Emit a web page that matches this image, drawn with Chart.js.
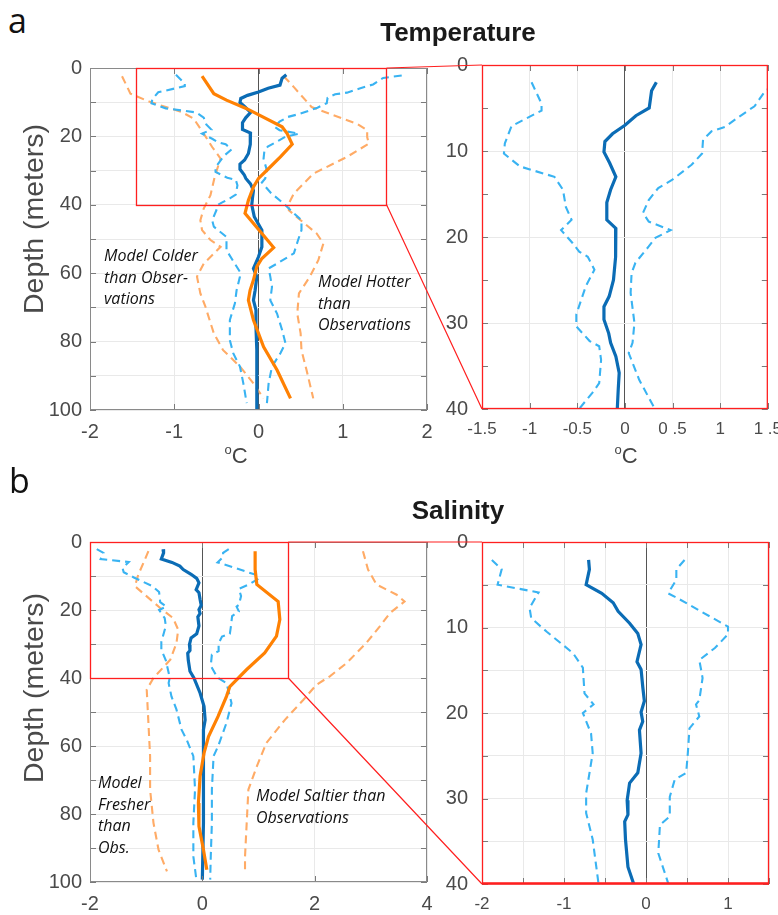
<!DOCTYPE html>
<html>
<head>
<meta charset="utf-8">
<script src="https://cdn.jsdelivr.net/npm/chart.js@4.4.1/dist/chart.umd.min.js"></script>
<style>
    body { margin: 0; background: #fff; }
    #fig { position: relative; width: 778px; height: 915px; overflow: hidden; background: #fff; font-family: 'Liberation Sans', Arial, sans-serif; }
    .lbl { position: absolute; white-space: nowrap; }
    .title { font-weight: bold; font-size: 26px; color: #1a1a1a; transform: translateX(-50%); }
    .panel { font-family: 'Open Sans', sans-serif; font-size: 34px; color: #111; line-height: 1; }
    .ylab { font-size: 28.5px; color: #4a4a4a; transform: translate(-50%, -50%) rotate(-90deg); }
    .unit { font-size: 22px; color: #444; transform: translateX(-50%); }
    .unit sup { font-size: 13px; vertical-align: 9px; }
    .note { font-family: 'Open Sans', sans-serif; font-style: italic; font-size: 16px; line-height: 21.7px; color: #111; }
</style>
</head>
<body>
<div id="fig">
    <div class="lbl panel" style="left:8px; top:3px;">a</div>
    <div class="lbl title" style="left:458px; top:17px;">Temperature</div>
    <div class="lbl ylab" style="left:33px; top:219px;">Depth (meters)</div>
    <div class="lbl unit" style="left:236px; top:442px;"><sup>o</sup>C</div>
    <div class="lbl unit" style="left:626px; top:442px;"><sup>o</sup>C</div>
    <div class="lbl note" style="left:104px; top:245px;">Model Colder<br>than Obser-<br>vations</div>
    <div class="lbl note" style="left:318px; top:271px;">Model Hotter<br>than<br>Observations</div>

    <div class="lbl panel" style="left:9px; top:463px;">b</div>
    <div class="lbl title" style="left:458px; top:495px;">Salinity</div>
    <div class="lbl ylab" style="left:33px; top:688px;">Depth (meters)</div>
    <div class="lbl note" style="left:98px; top:772px;">Model<br>Fresher<br>than<br>Obs.</div>
    <div class="lbl note" style="left:256px; top:785px;">Model Saltier than<br>Observations</div>
</div>
<script>
// ---- Temperature (model - observations), depth in meters ----
const tMeanDepth = [2, 3, 5, 5.9, 7, 8, 8.9, 10.1, 11.4, 13, 14.5, 16, 18, 19, 20.3, 22.3, 25, 26.9, 28.1, 29.6, 31.2, 32.3, 33.9, 35.8, 37.7, 40, 43.5, 47.4, 52.3, 55.2, 58.6, 61, 65, 67.9, 70.8, 75.7, 82.5, 89.3, 100];
const tMean = [0.33, 0.28, 0.255, 0.115, 0, -0.13, -0.21, -0.22, -0.16, -0.095, -0.15, -0.19, -0.19, -0.095, -0.1, -0.095, -0.12, -0.165, -0.22, -0.22, -0.17, -0.15, -0.095, -0.06, -0.07, -0.08, -0.05, 0.04, 0.04, 0, -0.06, -0.02, -0.04, -0.06, -0.03, -0.03, -0.02, -0.02, -0.02];

const tLowDepth = [2, 4.5, 5.3, 7.1, 9.1, 10.3, 11.8, 13, 14.5, 16.5, 18, 19.2, 20.7, 21.7, 22.3, 23.8, 25.7, 29, 30.4, 32.1, 32.7, 34.3, 37, 38.1, 39.3, 40, 41.6, 44.5, 46.4, 49.4, 53.3, 59.6, 61, 65, 68.8, 73.7, 79.6, 83.4, 87.3, 92.2, 98];
const tLow = [-0.98, -0.875, -0.875, -1.19, -1.26, -1.27, -1.1, -0.74, -0.65, -0.62, -0.56, -0.67, -0.55, -0.48, -0.39, -0.32, -0.41, -0.51, -0.51, -0.37, -0.27, -0.25, -0.27, -0.34, -0.43, -0.48, -0.5, -0.55, -0.53, -0.38, -0.38, -0.22, -0.22, -0.26, -0.28, -0.34, -0.34, -0.3, -0.22, -0.18, -0.14];

const tHighDepth = [2.2, 2.9, 4.8, 6, 7.2, 7.7, 8.7, 10.3, 11.6, 13.4, 14.3, 15.7, 17.2, 18.2, 19.2, 20.1, 21.1, 23, 24.2, 26.5, 30, 32.3, 33.5, 36.6, 39.7, 42.5, 44.5, 47.4, 50.3, 54.2, 57.2, 58.6, 61, 64, 67.9, 71.8, 76.6, 80.5, 83.4, 87.3, 92.2, 98];
const tHigh = [1.7, 1.48, 1.36, 1.2, 1.05, 0.91, 0.82, 0.81, 0.7, 0.49, 0.35, 0.25, 0.19, 0.25, 0.48, 0.32, 0.25, 0.11, 0.07, 0.06, 0.1, 0.08, 0.04, 0.15, 0.3, 0.42, 0.51, 0.51, 0.47, 0.42, 0.22, 0.12, 0.14, 0.16, 0.14, 0.22, 0.28, 0.32, 0.26, 0.16, 0.12, 0.1];

const tOrgDepth = [2.4, 7.5, 9.4, 11.9, 17.2, 19.2, 22.3, 26, 29.9, 32.3, 34.8, 38.7, 42.5, 52.5, 55.7, 58.1, 62, 65, 67.9, 73.7, 81.5, 88.3, 96.6];
const tOrg = [-0.67, -0.53, -0.38, -0.14, 0.28, 0.34, 0.4, 0.26, 0.1, 0, -0.06, -0.12, -0.16, 0.18, 0.04, -0.02, -0.06, -0.1, -0.12, -0.06, 0.06, 0.22, 0.38];

const tOrgLowDepth = [2.4, 7.5, 9.9, 12.9, 14.8, 19.2, 23.1, 26.5, 31.8, 37.2, 41.1, 44.5, 47.4, 50.3, 52.3, 57.2, 61, 65.9, 69.8, 77.6, 82.5, 87.3, 92.2, 96.6];
const tOrgLow = [-1.62, -1.52, -1.29, -0.91, -0.77, -0.65, -0.55, -0.45, -0.52, -0.57, -0.65, -0.69, -0.67, -0.57, -0.45, -0.65, -0.73, -0.69, -0.63, -0.53, -0.42, -0.22, -0.06, 0.06];

const tOrgHighDepth = [2.4, 5.6, 11.4, 13.8, 16.3, 18.2, 20.2, 22.1, 26, 30.9, 36.7, 39.6, 41.6, 44.5, 48.4, 51.3, 56.2, 61, 65.9, 71.8, 77.6, 82.5, 88.3, 96.6];
const tOrgHigh = [0.3, 0.42, 0.63, 0.89, 1.17, 1.29, 1.29, 1.31, 1.05, 0.65, 0.42, 0.36, 0.36, 0.5, 0.69, 0.77, 0.71, 0.61, 0.48, 0.46, 0.5, 0.51, 0.57, 0.65];

// ---- Salinity ----
const sMeanDepth = [2.1, 3.2, 5, 6, 7.1, 8.1, 9.5, 10.7, 12, 14, 14.9, 16.9, 18.6, 19.9, 21, 22, 24.7, 27, 28.2, 30.2, 31.9, 32.7, 34.8, 38, 40, 44.4, 48.3, 52.3, 55.2, 63, 82.6, 99.3];
const sMean = [-0.7, -0.69, -0.73, -0.54, -0.4, -0.34, -0.2, -0.1, -0.06, -0.11, -0.06, -0.04, -0.02, -0.06, -0.04, -0.08, -0.06, -0.1, -0.2, -0.23, -0.22, -0.26, -0.25, -0.22, -0.15, -0.04, 0.03, 0.05, 0.02, 0.02, 0.02, 0];

const sLowDepth = [2.1, 3.2, 5, 5.9, 7.7, 8.9, 10.5, 13, 14.7, 17.7, 19, 20, 22.4, 24.7, 29.4, 31.7, 34.8, 39.9, 41.5, 45.4, 49.3, 55.2, 58.1, 63, 72.8, 82.6, 92.5, 98.8];
const sLow = [-1.88, -1.76, -1.81, -1.31, -1.42, -1.4, -1.21, -0.89, -0.77, -0.75, -0.64, -0.77, -0.67, -0.65, -0.73, -0.73, -0.65, -0.58, -0.6, -0.55, -0.46, -0.37, -0.28, -0.16, -0.13, -0.16, -0.16, -0.11];

const sHighDepth = [2.1, 3.2, 4.4, 6, 6.6, 9.9, 10.8, 12.4, 13.8, 15.9, 18.5, 19, 20.4, 21.8, 24.7, 27, 27.8, 29.8, 32.1, 33.1, 36.4, 39.9, 41.5, 47.4, 53.2, 60.1, 63, 72.8, 82.6, 92.5, 99.3];
const sHigh = [0.47, 0.37, 0.37, 0.27, 0.39, 1.0, 1.0, 0.84, 0.65, 0.69, 0.65, 0.61, 0.65, 0.53, 0.51, 0.49, 0.35, 0.29, 0.29, 0.17, 0.15, 0.27, 0.43, 0.52, 0.43, 0.28, 0.2, 0.17, 0.17, 0.15, 0.14];

const sOrgDepth = [2.7, 8.1, 12.5, 17.5, 22.8, 27.7, 32.6, 37.5, 42.5, 45.4, 51.3, 57.2, 62.1, 68.9, 76.8, 83.6, 90.5, 96.4];
const sOrg = [0.94, 0.94, 0.97, 1.35, 1.38, 1.32, 1.11, 0.79, 0.49, 0.43, 0.28, 0.11, 0.03, -0.04, -0.07, -0.06, 0.02, 0.08];

const sOrgLowDepth = [2.7, 6.2, 9.6, 13, 16, 19.4, 22.4, 25.8, 29.7, 34.6, 40, 43.4, 53.2, 63, 72.8, 82.6, 90.5, 96.9];
const sOrgLow = [-0.96, -1.05, -1.14, -1.2, -0.99, -0.75, -0.52, -0.43, -0.46, -0.57, -0.87, -0.99, -0.96, -0.93, -0.93, -0.87, -0.78, -0.63];

const sOrgHighDepth = [2.7, 8.1, 12.5, 15.5, 17.5, 20.9, 24.8, 29.7, 35.6, 39.5, 42, 46.4, 52.3, 59.1, 66, 72.8, 82.6, 92.5, 96.9];
const sOrgHigh = [2.86, 2.95, 3.1, 3.46, 3.6, 3.34, 3.16, 2.92, 2.57, 2.27, 2.03, 1.8, 1.47, 1.14, 0.97, 0.82, 0.79, 0.76, 0.76];

// tick labels
const depthLabelsFull = [0, 20, 40, 60, 80, 100];
const depthLabelsZoom = [0, 10, 20, 30, 40];
const tempXLabels = ['-2', '-1', '0', '1', '2'];
const tempZoomXLabels = ['-1.5', '-1', '-0.5', '0', '0 .5', '1', '1 .5'];
const salXLabels = ['-2', '0', '2', '4'];
const salZoomXLabels = ['-2', '', '-1', '', '0', '', '1', ''];

// zoom window drawn on the full panels
const tempZoomBox = { x0: -1.45, x1: 1.52, y0: 0, y1: 40 };
const salZoomBox = { x0: -2, x1: 1.53, y0: 0, y1: 40 };

const FONT = "'Liberation Sans', Arial, sans-serif";
const DARK_BLUE = '#0b6cb5';
const LIGHT_BLUE = '#39b3f2';
const ORANGE = '#ff8103';
const ORANGE_LIGHT = '#ffab66';

function pts(depth, vals) {
    return vals.map((v, i) => ({ x: v, y: depth[i] }));
}

function solid(depth, vals, color) {
    return { data: pts(depth, vals), borderColor: color, borderWidth: 3.2, showLine: true, pointRadius: 0, fill: false };
}

function dashed(depth, vals, color) {
    return { data: pts(depth, vals), borderColor: color, borderWidth: 2.1, borderDash: [8, 5], showLine: true, pointRadius: 0, fill: false };
}

// MATLAB like box with inward ticks + optional zoom rectangle
const framePlugin = {
    id: 'frame',
    afterDatasetsDraw(chart, args, o) {
        const { ctx, chartArea: a, scales: { x, y } } = chart;
        ctx.save();
        ctx.strokeStyle = '#7a7a7a';
        ctx.lineWidth = 1;
        ctx.beginPath();
        y.ticks.forEach(t => {
            const p = Math.round(y.getPixelForValue(t.value)) + 0.5;
            ctx.moveTo(a.left, p); ctx.lineTo(a.left + 6, p);
            ctx.moveTo(a.right, p); ctx.lineTo(a.right - 6, p);
        });
        x.ticks.forEach(t => {
            const p = Math.round(x.getPixelForValue(t.value)) + 0.5;
            ctx.moveTo(p, a.bottom); ctx.lineTo(p, a.bottom - 6);
            ctx.moveTo(p, a.top); ctx.lineTo(p, a.top + 6);
        });
        ctx.stroke();

        ctx.strokeStyle = o.border || '#8a8a8a';
        ctx.lineWidth = o.borderWidth || 1;
        ctx.strokeRect(a.left + 0.5, a.top + 0.5, a.width - 1, a.height - 1);
        if (o.bottomWidth) {
            ctx.lineWidth = o.bottomWidth;
            ctx.beginPath();
            ctx.moveTo(a.left, a.bottom - 0.5);
            ctx.lineTo(a.right, a.bottom - 0.5);
            ctx.stroke();
        }

        if (o.zoom) {
            const z = o.zoom;
            const x0 = x.getPixelForValue(z.x0), x1 = x.getPixelForValue(z.x1);
            const y0 = y.getPixelForValue(z.y0), y1 = y.getPixelForValue(z.y1);
            ctx.strokeStyle = '#ff1f1f';
            ctx.lineWidth = 1.3;
            ctx.strokeRect(Math.round(x0) + 0.5, Math.round(y0) + 0.5, Math.round(x1 - x0), Math.round(y1 - y0));
        }
        ctx.restore();
    }
};

const fig = document.getElementById('fig');

function makePanel(rect, cfg) {
    const yw = 60, xh = 45, padT = 32, padR = 22;
    const w = rect.r - rect.l + yw + padR;
    const h = rect.b - rect.t + padT + xh;
    const cv = document.createElement('canvas');
    cv.width = w;
    cv.height = h;
    cv.style.cssText = 'position:absolute;left:' + (rect.l - yw) + 'px;top:' + (rect.t - padT) + 'px;width:' + w + 'px;height:' + h + 'px;';
    fig.insertBefore(cv, fig.firstChild);

    const chart = new Chart(cv, {
        type: 'scatter',
        data: { datasets: cfg.datasets },
        options: {
            responsive: false,
            animation: false,
            events: [],
            layout: { padding: { top: padT, right: padR, left: 0, bottom: 0 } },
            plugins: { legend: { display: false }, tooltip: { enabled: false }, frame: cfg.frame },
            scales: {
                x: {
                    type: 'linear', min: cfg.xMin, max: cfg.xMax,
                    afterFit(s) { s.height = xh; },
                    border: { display: false },
                    grid: {
                        drawTicks: false,
                        color: c => c.tick && c.tick.value === 0 ? '#555' : '#e9e9e9'
                    },
                    ticks: {
                        stepSize: cfg.xStep, autoSkip: false, maxRotation: 0,
                        color: '#4a4a4a', padding: cfg.xPad,
                        font: { family: FONT, size: cfg.xFont },
                        callback: (v, i) => cfg.xLabels[i]
                    }
                },
                y: {
                    type: 'linear', reverse: true, min: 0, max: cfg.yMax,
                    afterFit(s) { s.width = yw; },
                    border: { display: false },
                    grid: {
                        drawTicks: false,
                        color: c => cfg.yGrid ? cfg.yGrid(c.tick.value) : '#e9e9e9'
                    },
                    ticks: {
                        stepSize: cfg.yStep, autoSkip: false,
                        color: '#4a4a4a', padding: cfg.yPad,
                        font: { family: FONT, size: 20 },
                        callback: v => cfg.yLabels.includes(v) ? String(v) : ''
                    }
                }
            }
        },
        plugins: [framePlugin]
    });
    chart.$offX = rect.l - yw;
    chart.$offY = rect.t - padT;
    return chart;
}

const tempFull = makePanel({ l: 90, t: 68, r: 427, b: 410 }, {
    datasets: [
        solid(tOrgDepth, tOrg, ORANGE),
        solid(tMeanDepth, tMean, DARK_BLUE),
        dashed(tLowDepth, tLow, LIGHT_BLUE),
        dashed(tHighDepth, tHigh, LIGHT_BLUE),
        dashed(tOrgLowDepth, tOrgLow, ORANGE_LIGHT),
        dashed(tOrgHighDepth, tOrgHigh, ORANGE_LIGHT)
    ],
    xMin: -2, xMax: 2, xStep: 1, xLabels: tempXLabels, xFont: 20, xPad: 10,
    yMax: 100, yStep: 10, yLabels: depthLabelsFull, yPad: 8,
    frame: { zoom: tempZoomBox }
});

const tempZoom = makePanel({ l: 482, t: 65, r: 770, b: 409 }, {
    datasets: [
        solid(tMeanDepth, tMean, DARK_BLUE),
        dashed(tLowDepth, tLow, LIGHT_BLUE),
        dashed(tHighDepth, tHigh, LIGHT_BLUE)
    ],
    xMin: -1.5, xMax: 1.5, xStep: 0.5, xLabels: tempZoomXLabels, xFont: 17, xPad: 10,
    yMax: 40, yStep: 5, yLabels: depthLabelsZoom, yPad: 14,
    yGrid: v => v % 10 === 0 ? '#e9e9e9' : 'rgba(0,0,0,0)',
    frame: { border: '#ff1f1f', borderWidth: 1.3 }
});

const salFull = makePanel({ l: 90, t: 542, r: 427, b: 882 }, {
    datasets: [
        solid(sOrgDepth, sOrg, ORANGE),
        solid(sMeanDepth, sMean, DARK_BLUE),
        dashed(sLowDepth, sLow, LIGHT_BLUE),
        dashed(sHighDepth, sHigh, LIGHT_BLUE),
        dashed(sOrgLowDepth, sOrgLow, ORANGE_LIGHT),
        dashed(sOrgHighDepth, sOrgHigh, ORANGE_LIGHT)
    ],
    xMin: -2, xMax: 4, xStep: 2, xLabels: salXLabels, xFont: 20, xPad: 10,
    yMax: 100, yStep: 10, yLabels: depthLabelsFull, yPad: 8,
    frame: { zoom: salZoomBox }
});

const salZoom = makePanel({ l: 482, t: 542, r: 769, b: 884 }, {
    datasets: [
        solid(sMeanDepth, sMean, DARK_BLUE),
        dashed(sLowDepth, sLow, LIGHT_BLUE),
        dashed(sHighDepth, sHigh, LIGHT_BLUE)
    ],
    xMin: -2, xMax: 1.5, xStep: 0.5, xLabels: salZoomXLabels, xFont: 17, xPad: 10,
    yMax: 40, yStep: 5, yLabels: depthLabelsZoom, yPad: 14,
    frame: { border: '#ff1f1f', borderWidth: 1.3, bottomWidth: 2.5 }
});

// connector lines from the zoom box to the zoomed panel
function connect(full, zoomChart, box) {
    const cv = document.createElement('canvas');
    cv.width = 778; cv.height = 915;
    cv.style.cssText = 'position:absolute;left:0;top:0;pointer-events:none;';
    fig.appendChild(cv);
    const ctx = cv.getContext('2d');
    const fx = full.scales.x, fy = full.scales.y;
    const za = zoomChart.chartArea;
    const bx = full.$offX + fx.getPixelForValue(box.x1);
    const by0 = full.$offY + fy.getPixelForValue(box.y0);
    const by1 = full.$offY + fy.getPixelForValue(box.y1);
    ctx.strokeStyle = '#ff1f1f';
    ctx.lineWidth = 1.2;
    ctx.beginPath();
    ctx.moveTo(bx, by0); ctx.lineTo(zoomChart.$offX + za.left, zoomChart.$offY + za.top);
    ctx.moveTo(bx, by1); ctx.lineTo(zoomChart.$offX + za.left, zoomChart.$offY + za.bottom);
    ctx.stroke();
}
connect(tempFull, tempZoom, tempZoomBox);
connect(salFull, salZoom, salZoomBox);
</script>
</body>
</html>
